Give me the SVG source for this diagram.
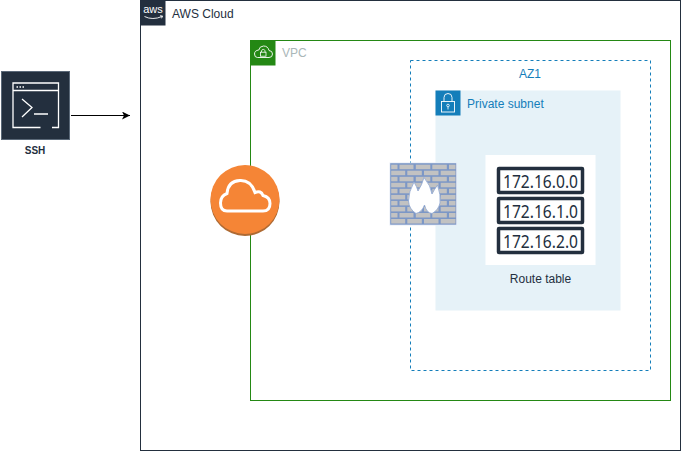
<svg xmlns="http://www.w3.org/2000/svg" width="681" height="451" viewBox="0 0 681 451">
<style>
text{font-family:"Liberation Sans",Arial,sans-serif;font-size:12px}
.ip{font-family:"Noto Sans","Open Sans",sans-serif;font-size:18px;fill:#232f3e}
.ipb{fill:#fff;stroke:#232f3e;stroke-width:3.500}
.brick{fill:#c2c2c2}
</style>
<defs>
<marker id="arrow" markerWidth="9" markerHeight="8" refX="8" refY="4" orient="auto" markerUnits="userSpaceOnUse"><path d="M0 0L8 4L0 8L2 4Z" fill="#000"/></marker>
<g id="row-a" class="brick"><rect x="391.200" width="6.300" height="4.500"/><rect x="399.500" width="14" height="4.500"/><rect x="415.800" width="14.500" height="4.500"/><rect x="432.300" width="14.500" height="4.500"/><rect x="449" width="6.500" height="4.500"/></g>
<g id="row-b" class="brick"><rect x="391.200" width="14" height="4.500"/><rect x="407.300" width="14.500" height="4.500"/><rect x="424" width="14.500" height="4.500"/><rect x="440.700" width="14.800" height="4.500"/></g>
</defs>
<rect width="681" height="451" fill="#fff"/>
<g id="aws-cloud">
<rect x="140.500" y="0.500" width="540" height="450" fill="#fff" stroke="#232f3e"/>
<rect x="140.500" y="0.500" width="25" height="25" fill="#232f3e"/>
<text x="153" y="13" style="font-size:11px" fill="#fff" text-anchor="middle">aws</text>
<path d="M144.500 16.500Q152.500 20.500 162 16.500M160 15.800L162.600 16L161.500 18.300" fill="none" stroke="#fff" stroke-width="0.900"/>
<text x="172" y="18" fill="#232f3e">AWS Cloud</text>
</g>
<g id="vpc">
<rect x="250.500" y="40.500" width="420" height="360" fill="none" stroke="#248814"/>
<rect x="250.500" y="40.500" width="25" height="25" fill="#248814"/>
<path d="M257.500 57.500H269Q272.500 57.500 272.500 54Q272.500 50.800 269 50.500Q268 46 263.500 46Q259.500 46.200 258.800 50Q254.500 50.500 254.500 54Q254.500 57.500 257.500 57.500Z" fill="none" stroke="#fff" stroke-width="0.900"/>
<rect x="260.500" y="52.200" width="5.500" height="4" fill="none" stroke="#fff" stroke-width="0.800"/>
<path d="M261.500 52.200V50.800A1.800 1.800 0 0 1 265 50.800V52.200" fill="none" stroke="#fff" stroke-width="0.800"/>
<text x="282" y="57" fill="#aab7b8">VPC</text>
</g>
<g id="az1">
<rect x="410.500" y="60.500" width="240" height="310" fill="none" stroke="#147eba" stroke-dasharray="3 3"/>
<text x="530" y="78" fill="#147eba" text-anchor="middle">AZ1</text>
</g>
<g id="private-subnet">
<rect x="435.500" y="90.500" width="185" height="220" fill="#e6f2f8"/>
<rect x="435.500" y="90.500" width="25" height="25" fill="#147eba"/>
<rect x="441.500" y="101.500" width="13" height="10.500" fill="none" stroke="#fff" stroke-width="0.900"/>
<path d="M444 101.500V97.500A4 4 0 0 1 452 97.500V101.500" fill="none" stroke="#fff" stroke-width="0.900"/>
<circle cx="448" cy="105.500" r="1.300" fill="none" stroke="#fff" stroke-width="0.800"/>
<path d="M448 107V109.500" stroke="#fff" stroke-width="0.800"/>
<text x="467" y="108" fill="#147eba">Private subnet</text>
</g>
<g id="route-table">
<rect x="485.500" y="155" width="110" height="110" fill="#fff"/>
<rect class="ipb" x="498.500" y="168.500" width="84" height="24" rx="0.500"/>
<rect class="ipb" x="498.500" y="198.500" width="84" height="24" rx="0.500"/>
<rect class="ipb" x="498.500" y="228.500" width="84" height="24" rx="0.500"/>
<text class="ip" x="503" y="187.500" textLength="75" lengthAdjust="spacingAndGlyphs">172.16.0.0</text>
<text class="ip" x="503" y="217.500" textLength="75" lengthAdjust="spacingAndGlyphs">172.16.1.0</text>
<text class="ip" x="503" y="247.500" textLength="75" lengthAdjust="spacingAndGlyphs">172.16.2.0</text>
<text x="540.500" y="283" fill="#232f3e" text-anchor="middle">Route table</text>
</g>
<g id="ssh">
<rect x="1.500" y="71.500" width="68" height="68" fill="#232f3e" stroke="#5a6878" stroke-width="1"/>
<path d="M40.500 127.500H13V83H58.500V127.500H52M13 90.500H58.500" fill="none" stroke="#fff" stroke-width="1.300"/>
<path d="M16.500 87H18M19.500 87H21M22.500 87H24" stroke="#fff" stroke-width="1.400"/>
<path d="M22 99L32 107.500L22 117M34 114H48" fill="none" stroke="#fff" stroke-width="1.300"/>
<text x="35" y="154" fill="#232f3e" text-anchor="middle" font-weight="bold" style="font-size:10px">SSH</text>
</g>
<g id="connectors">
<path d="M71 115.500H130" fill="none" stroke="#000" marker-end="url(#arrow)"/>
</g>
<g id="internet-gateway">
<circle cx="245" cy="201.500" r="34.500" fill="#ae6a33"/>
<circle cx="245" cy="199.500" r="34.500" fill="#f58536"/>
<path d="M227 211H263Q270 211 270 203.500Q270 197 263 195.500Q261 190 255 192.500Q251 180 240 180.500Q228 181 227 193.500Q220.500 196 220.500 203Q220.500 211 227 211Z" fill="none" stroke="#fff" stroke-width="3"/>
</g>
<g id="firewall">
<rect x="389.500" y="162.500" width="67.500" height="63" fill="#e6ecf6"/>
<rect x="390.200" y="163.200" width="66" height="61.500" fill="#7c97c6"/>
<use href="#row-a" y="164.700"/>
<use href="#row-b" y="170.700"/>
<use href="#row-a" y="176.800"/>
<use href="#row-b" y="182.800"/>
<use href="#row-a" y="188.800"/>
<use href="#row-b" y="194.900"/>
<use href="#row-a" y="200.900"/>
<use href="#row-b" y="206.900"/>
<use href="#row-a" y="213"/>
<use href="#row-b" y="219"/>
<path d="M416 213.500Q409 209 408.500 201Q408.500 192 414 182Q417 187 418 191Q422 185 424 177.500Q431 186 432 194Q434 190 437.500 185Q441 195 440 203Q438.500 210 432 213.500Q426.500 213 424.500 205Q422 212 416 213.500Z" fill="#fff" stroke="#8ea6d0" stroke-width="0.800"/>
</g>
</svg>
